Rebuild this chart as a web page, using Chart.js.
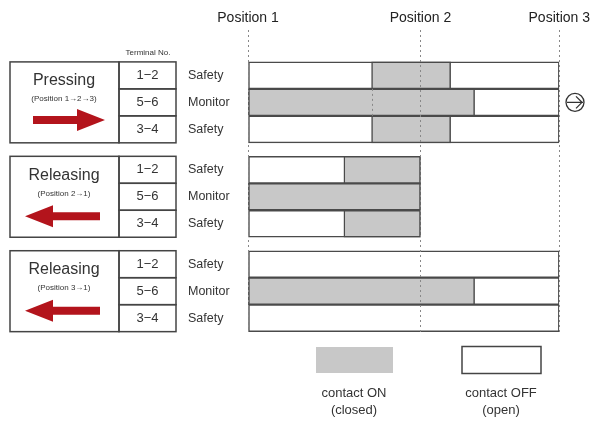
<!DOCTYPE html>
<html>
<head>
<meta charset="utf-8">
<script src="https://cdn.jsdelivr.net/npm/chart.js@4.4.1/dist/chart.umd.min.js"></script>
<style>
  html, body { margin: 0; padding: 0; background: #fff; }
  canvas { display: block; }
</style>
</head>
<body>
<canvas id="timingChart" width="593" height="424"></canvas>
<script>
// Stroke positions (0 = Position 1, 100 = Position 3)
const positionLabels = ['Position 1', 'Position 2', 'Position 3'];
const positionStroke = [0, 55.4, 100];

// Operation groups
const groupTitles = ['Pressing', 'Releasing', 'Releasing'];
const groupNotes = ['(Position 1\u21922\u21923)', '(Position 2\u21921)', '(Position 3\u21921)'];
const groupTravelEnd = [100, 55.4, 100];
const groupDirection = [1, -1, -1];

// Contact rows inside every group
const terminalNos = ['1\u22122', '5\u22126', '3\u22124'];
const contactNames = ['Safety', 'Monitor', 'Safety'];

// contact ON (closed) ranges, one per contact row
const pressingOn = [[39.7, 65.1], [0, 72.8], [39.7, 65.1]];
const releasing21On = [[30.8, 55.4], [0, 55.4], [30.8, 55.4]];
const releasing31On = [null, [0, 72.8], null];
const groupOn = [pressingOn, releasing21On, releasing31On];

const FONT = "'Liberation Sans', Arial, sans-serif";
const GROUP_GAP = 0.5;
const rowY = (g, r) => g * (3 + GROUP_GAP) + r;

// Build bar data
const onBars = [];
const offBars = [];
groupOn.forEach((rows, g) => {
  rows.forEach((range, r) => {
    offBars.push({ x: [0, groupTravelEnd[g]], y: rowY(g, r) });
    if (range) onBars.push({ x: range, y: rowY(g, r) });
  });
});

function drawArrow(ctx, x0, x1, cy, dir) {
  const headLen = 28, headHalf = 11, bodyHalf = 4;
  ctx.fillStyle = '#b3141c';
  ctx.beginPath();
  if (dir > 0) {
    ctx.moveTo(x0, cy - bodyHalf);
    ctx.lineTo(x1 - headLen, cy - bodyHalf);
    ctx.lineTo(x1 - headLen, cy - headHalf);
    ctx.lineTo(x1, cy);
    ctx.lineTo(x1 - headLen, cy + headHalf);
    ctx.lineTo(x1 - headLen, cy + bodyHalf);
    ctx.lineTo(x0, cy + bodyHalf);
  } else {
    ctx.moveTo(x1, cy - bodyHalf);
    ctx.lineTo(x0 + headLen, cy - bodyHalf);
    ctx.lineTo(x0 + headLen, cy - headHalf);
    ctx.lineTo(x0, cy);
    ctx.lineTo(x0 + headLen, cy + headHalf);
    ctx.lineTo(x0 + headLen, cy + bodyHalf);
    ctx.lineTo(x1, cy + bodyHalf);
  }
  ctx.closePath();
  ctx.fill();
}

// Left-hand table, arrows, push icon and the legend
const diagramDecor = {
  id: 'diagramDecor',
  afterDraw(chart) {
    const { ctx, scales: { x, y } } = chart;
    ctx.save();
    ctx.strokeStyle = '#444';
    ctx.lineWidth = 1.5;

    groupTitles.forEach((title, g) => {
      const top = y.getPixelForValue(rowY(g, 0) - 0.5);
      const bottom = y.getPixelForValue(rowY(g, 2) + 0.5);
      ctx.strokeRect(10, top, 109, bottom - top);
      terminalNos.forEach((t, r) => {
        const rTop = y.getPixelForValue(rowY(g, r) - 0.5);
        const rBot = y.getPixelForValue(rowY(g, r) + 0.5);
        const cy = (rTop + rBot) / 2;
        ctx.strokeRect(119, rTop, 57, rBot - rTop);
        ctx.fillStyle = '#333';
        ctx.textBaseline = 'middle';
        ctx.textAlign = 'center';
        ctx.font = '13px ' + FONT;
        ctx.fillText(t, 147.5, cy);
        ctx.textAlign = 'left';
        ctx.font = '12.5px ' + FONT;
        ctx.fillText(contactNames[r], 188, cy);
      });
      ctx.fillStyle = '#333';
      ctx.textAlign = 'center';
      ctx.font = '16px ' + FONT;
      ctx.fillText(title, 64, top + 19);
      ctx.font = '8px ' + FONT;
      ctx.fillText(groupNotes[g], 64, top + 37);
      if (groupDirection[g] > 0) drawArrow(ctx, 33, 105, top + 58, 1);
      else drawArrow(ctx, 25, 100, top + 60, -1);
    });

    // dotted continuation of the safety switching point through the monitor row
    const sx = Math.round(x.getPixelForValue(pressingOn[0][0])) + 0.5;
    ctx.strokeStyle = '#888';
    ctx.lineWidth = 1;
    ctx.setLineDash([2, 3]);
    ctx.beginPath();
    ctx.moveTo(sx, y.getPixelForValue(rowY(0, 1) - 0.5));
    ctx.lineTo(sx, y.getPixelForValue(rowY(0, 1) + 0.5));
    ctx.stroke();
    ctx.setLineDash([]);

    // header above terminal column
    const firstTop = y.getPixelForValue(rowY(0, 0) - 0.5);
    ctx.fillStyle = '#333';
    ctx.textAlign = 'center';
    ctx.font = '8px ' + FONT;
    ctx.fillText('Terminal No.', 148, firstTop - 9);

    // push direction icon beside the monitor row
    const iy = y.getPixelForValue(rowY(0, 1));
    ctx.strokeStyle = '#333';
    ctx.lineWidth = 1.3;
    ctx.beginPath();
    ctx.arc(575, iy, 9, 0, Math.PI * 2);
    ctx.moveTo(567, iy);
    ctx.lineTo(583, iy);
    ctx.moveTo(576, iy - 6);
    ctx.lineTo(582, iy);
    ctx.lineTo(576, iy + 6);
    ctx.stroke();

    // legend
    ctx.fillStyle = '#c8c8c8';
    ctx.fillRect(316, 347, 77, 26);
    ctx.strokeStyle = '#444';
    ctx.lineWidth = 1.5;
    ctx.strokeRect(462, 346.5, 79, 27);
    ctx.fillStyle = '#333';
    ctx.font = '13px ' + FONT;
    ctx.fillText('contact ON', 354, 393);
    ctx.fillText('(closed)', 354, 410);
    ctx.fillText('contact OFF', 501, 393);
    ctx.fillText('(open)', 501, 410);
    ctx.restore();
  }
};

const ctx = document.getElementById('timingChart').getContext('2d');
const chart = new Chart(ctx, {
  type: 'bar',
  data: {
    datasets: [
      {
        label: 'contact ON',
        data: onBars,
        backgroundColor: '#c8c8c8',
        borderColor: '#4a4a4a',
        borderWidth: 1.5,
        borderSkipped: false,
        barThickness: 27,
        grouped: false
      },
      {
        label: 'contact OFF',
        data: offBars,
        backgroundColor: '#ffffff',
        borderColor: '#4a4a4a',
        borderWidth: 1.5,
        borderSkipped: false,
        barThickness: 27,
        grouped: false
      }
    ]
  },
  options: {
    indexAxis: 'y',
    responsive: false,
    animation: false,
    devicePixelRatio: 1,
    layout: { padding: { left: 248, right: 33, top: 7, bottom: 91 } },
    scales: {
      x: {
        type: 'linear',
        position: 'top',
        min: 0,
        max: 100,
        afterBuildTicks: (scale) => {
          scale.ticks = positionStroke.map(v => ({ value: v }));
        },
        grid: { color: '#888', lineWidth: 1, drawTicks: false, z: 1 },
        border: { display: false, dash: [2, 3] },
        ticks: {
          color: '#222',
          padding: 3,
          maxRotation: 0,
          font: { family: FONT, size: 14 },
          callback: (value, index) => positionLabels[index]
        }
      },
      y: {
        type: 'linear',
        display: false,
        offset: false,
        reverse: true,
        min: -1.69,
        max: 9.55
      }
    },
    plugins: {
      legend: { display: false },
      tooltip: { enabled: false }
    }
  },
  plugins: [diagramDecor]
});
</script>
</body>
</html>
